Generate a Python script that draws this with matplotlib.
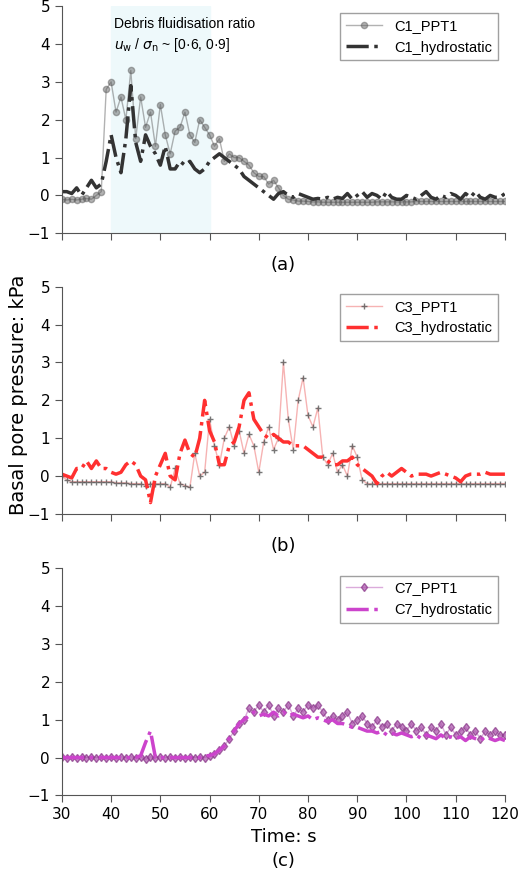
import numpy as np
import matplotlib
matplotlib.use("Agg")
import matplotlib.pyplot as plt

t = list(range(30, 121))
c1_ppt = [-0.1,-0.12,-0.1,-0.12,-0.1,-0.08,-0.1,0.0,0.1,2.8,3.0,2.2,2.6,2.0,3.3,1.5,2.6,1.8,2.2,1.3,
          2.4,1.6,1.1,1.7,1.8,2.2,1.6,1.4,2.0,1.8,1.6,1.3,1.5,0.9,1.1,1.0,1.0,0.9,0.8,0.6,
          0.5,0.5,0.3,0.4,0.2,0.0,-0.1,-0.12,-0.15,-0.15,-0.16,-0.17,-0.17,-0.18,-0.18,-0.18,-0.18,-0.18,-0.18,-0.18,
          -0.18,-0.18,-0.18,-0.18,-0.17,-0.17,-0.17,-0.17,-0.17,-0.17,-0.17,-0.17,-0.16,-0.16,-0.16,-0.16,-0.16,-0.16,-0.16,-0.16,
          -0.16,-0.16,-0.16,-0.16,-0.16,-0.16,-0.16,-0.16,-0.16,-0.16,-0.16]
c1_hyd = [0.1,0.1,0.05,0.2,0.0,0.2,0.4,0.2,0.3,0.9,1.6,1.0,0.6,1.5,2.9,1.4,0.9,1.6,1.3,1.1,
          0.8,1.3,0.7,0.7,0.9,0.8,0.9,0.7,0.6,0.7,0.9,1.0,1.1,1.0,0.9,0.8,0.7,0.5,0.4,0.3,
          0.2,0.1,0.0,-0.1,0.05,0.1,0.0,-0.05,0.05,0.0,-0.05,-0.1,-0.08,-0.1,-0.05,-0.1,-0.05,-0.08,0.05,-0.1,
          0.0,0.1,-0.05,0.05,0.0,-0.1,0.1,-0.05,-0.1,-0.1,0.0,-0.05,-0.1,0.0,0.1,-0.05,-0.1,0.0,-0.05,0.05,
          0.0,-0.1,0.05,-0.05,0.1,-0.05,-0.1,0.0,-0.05,-0.05,0.05]
c3_ppt = [0.0,-0.1,-0.15,-0.15,-0.15,-0.15,-0.15,-0.15,-0.15,-0.15,-0.15,-0.18,-0.18,-0.18,-0.2,-0.2,-0.2,-0.25,-0.2,-0.2,
          -0.2,-0.2,-0.3,0.2,-0.2,-0.25,-0.3,0.6,0.0,0.1,1.5,0.8,0.3,1.0,1.3,0.8,1.2,0.6,1.1,0.8,
          0.1,0.9,1.3,0.7,1.0,3.0,1.5,0.7,2.0,2.6,1.6,1.3,1.8,0.5,0.3,0.6,0.1,0.3,0.0,0.8,
          0.5,-0.1,-0.2,-0.2,-0.2,-0.2,-0.2,-0.2,-0.2,-0.2,-0.2,-0.2,-0.2,-0.2,-0.2,-0.2,-0.2,-0.2,-0.2,-0.2,
          -0.2,-0.2,-0.2,-0.2,-0.2,-0.2,-0.2,-0.2,-0.2,-0.2,-0.2]
c3_hyd = [0.05,0.0,-0.05,0.2,0.2,0.4,0.2,0.4,0.2,0.2,0.1,0.05,0.1,0.3,0.4,0.3,0.0,-0.1,-0.7,0.0,
          0.3,0.6,0.0,-0.1,0.6,0.95,0.6,0.5,1.0,2.0,1.2,0.9,0.3,0.3,0.8,0.9,1.3,2.0,2.2,1.5,
          1.3,1.1,1.0,1.1,1.0,0.9,0.9,0.8,0.8,0.8,0.7,0.6,0.5,0.5,0.4,0.3,0.3,0.4,0.4,0.5,
          0.3,0.2,0.1,0.0,-0.2,0.0,0.1,0.0,0.1,0.2,0.1,0.0,0.05,0.05,0.05,0.0,0.05,0.1,0.05,0.0,
          -0.05,-0.15,0.0,0.05,0.05,0.05,0.1,0.05,0.05,0.05,0.05]
c7_ppt = [0.02,0.0,0.02,0.0,0.02,0.0,0.02,0.0,0.02,0.0,0.02,0.0,0.02,0.0,0.02,0.0,0.02,-0.05,0.02,0.0,
          0.02,0.0,0.02,0.0,0.02,0.0,0.02,0.0,0.02,0.0,0.05,0.1,0.2,0.3,0.5,0.7,0.9,1.0,1.3,1.2,
          1.4,1.2,1.4,1.1,1.3,1.2,1.4,1.1,1.3,1.2,1.4,1.3,1.4,1.2,1.0,1.1,1.0,1.1,1.2,0.9,
          1.0,1.1,0.9,0.8,1.0,0.8,0.9,0.7,0.9,0.8,0.7,0.9,0.7,0.8,0.6,0.8,0.7,0.9,0.6,0.8,
          0.6,0.7,0.8,0.6,0.7,0.5,0.7,0.6,0.7,0.6,0.6]
c7_hyd = [0.0,0.0,0.0,0.0,0.0,0.0,0.0,0.0,0.0,0.0,0.0,0.0,0.0,0.0,0.0,0.0,0.05,0.4,0.7,0.0,
          0.0,0.0,0.0,0.0,0.0,0.0,0.0,0.0,0.0,0.05,0.05,0.1,0.2,0.3,0.5,0.7,0.9,1.0,1.1,1.2,
          1.1,1.15,1.1,1.2,1.1,1.2,1.1,1.15,1.1,1.05,1.1,1.0,1.05,1.0,0.95,1.0,0.9,0.9,0.85,0.8,
          0.8,0.75,0.7,0.7,0.65,0.7,0.6,0.65,0.6,0.65,0.6,0.55,0.6,0.5,0.6,0.55,0.5,0.6,0.5,0.55,
          0.5,0.55,0.45,0.55,0.5,0.45,0.55,0.5,0.45,0.5,0.45]

fig = plt.figure(figsize=(5.2, 8.77), dpi=100)
L, W = 0.119, 0.852
tops = [0.993, 0.673, 0.352]
H = 0.259
panels = [
    ("C1", c1_ppt, c1_hyd, dict(color="#555555", marker="o", ms=4.5, alpha=0.45, lw=1), "#333333", "(a)"),
    ("C3", c3_ppt, c3_hyd, dict(color="#f4a0a0", marker="+", ms=5, mec="#555555", alpha=0.8, lw=1), "#ff3030", "(b)"),
    ("C7", c7_ppt, c7_hyd, dict(color="#cc88cc", marker="d", ms=4.5, mec="#883388", mfc="#aa55aa", alpha=0.7, lw=1), "#cc44cc", "(c)"),
]
for i, (name, ppt, hyd, sty, hc, lab) in enumerate(panels):
    ax = fig.add_axes([L, tops[i] - H, W, H])
    if i == 0:
        ax.axvspan(40, 60, color="#eef9fb", zorder=0)
        ax.text(40.5, 4.7, "Debris fluidisation ratio", fontsize=10, va="top", family="Liberation Sans")
        ax.text(40.5, 4.2, r"$u_\mathrm{w}$ / $\sigma_\mathrm{n}$ ~ [0·6, 0·9]", fontsize=10, va="top", family="Liberation Sans")
    ax.plot(t, ppt, label=f"{name}_PPT1", **sty)
    ax.plot(t, hyd, color=hc, ls="-.", lw=2.5, label=f"{name}_hydrostatic")
    ax.set_xlim(30, 120)
    ax.set_ylim(-1, 5)
    ax.set_xticks(range(30, 121, 10))
    ax.set_yticks(range(-1, 6))
    ax.set_yticklabels(["\u22121", "0", "1", "2", "3", "4", "5"])
    for s in ("top", "right"):
        ax.spines[s].set_visible(False)
    ax.spines["left"].set_color("#555555")
    ax.spines["bottom"].set_color("#555555")
    ax.tick_params(direction="out", length=5, labelsize=11, colors="#555555", labelcolor="black")
    if i < 2:
        ax.tick_params(labelbottom=False)
        ax.text(0.5, -0.1, lab, transform=ax.transAxes, ha="center", va="top", fontsize=13)
    else:
        ax.set_xlabel("Time: s", fontsize=13)
        ax.text(0.5, -0.25, lab, transform=ax.transAxes, ha="center", va="top", fontsize=13)
    leg = ax.legend(loc="upper right", bbox_to_anchor=(1.0, 1.0), fancybox=False, edgecolor="#888888",
                    prop={"family": "Liberation Sans", "size": 10.5}, handlelength=2.5)
fig.text(0.018, 0.55, "Basal pore pressure: kPa", rotation=90, ha="left", va="center", fontsize=14)
fig.savefig("out.png", dpi=100)
